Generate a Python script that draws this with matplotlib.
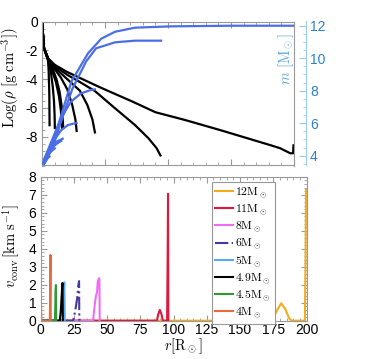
import matplotlib
matplotlib.use("Agg")
import matplotlib.pyplot as plt
from matplotlib.ticker import MultipleLocator

plt.rcParams["font.family"] = ["Liberation Sans", "DejaVu Sans"]
plt.rcParams["mathtext.fontset"] = "cm"

models = ["12", "11", "8", "6", "5", "4.9", "4.5", "4"]
colors = ["#f2ac1c", "#e0163c", "#f06cf2", "#46389e", "#5aaaec", "black", "#2f9a33", "#e8693a"]
styles = ["-", "-", "-", "-.", "-", "-", "-", "-"]

# top panel: log density vs radius (black)
rho_r = {
    "12": [0, 1.6, 4.8, 10, 19.6, 46, 72, 90, 113.5, 141, 181, 189, 197, 199.3, 199.6],
    "11": [0, 1.6, 4.8, 10, 20, 30, 42, 58, 73.8, 84.4, 91, 94],
    "8": [0, 1.6, 4.8, 10, 20, 30, 36, 40, 42],
    "6": [0, 1.6, 4.8, 10, 15, 20, 24, 26.5, 27.5],
    "5": [0, 1.6, 4.8, 8.5, 11.5, 14, 15.8, 16.6, 16.8],
    "4.9": [0, 1.6, 4.8, 8, 11, 13.5, 15, 15.7, 16.0],
    "4.5": [0, 1.6, 4.8, 7, 8.5, 9.5, 10, 10.2],
    "4": [0, 1.6, 4.8, 5.3, 5.8, 6.0],
}
rho_v = {
    "12": [0, -1.86, -2.56, -3.0, -3.49, -4.57, -5.57, -6.3, -6.84, -7.53, -8.58, -8.8, -9.15, -9.15, -8.6],
    "11": [0, -1.86, -2.56, -3.1, -3.7, -4.2, -4.83, -6.03, -7.19, -8.1, -8.8, -9.3],
    "8": [0, -1.86, -2.56, -3.2, -4.0, -4.8, -5.8, -6.8, -7.7],
    "6": [0, -1.86, -2.56, -3.3, -3.9, -4.7, -5.8, -6.8, -7.6],
    "5": [0, -1.86, -2.6, -3.3, -4.0, -4.9, -6.0, -7.0, -7.4],
    "4.9": [0, -1.86, -2.6, -3.4, -4.2, -5.2, -6.2, -7.0, -7.4],
    "4.5": [0, -1.86, -2.7, -3.5, -4.5, -5.5, -6.5, -7.4],
    "4": [0, -1.86, -2.7, -3.5, -5.0, -7.2],
}

# top panel: enclosed mass vs radius (blue)
mass_r = {
    "12": [0, 7.4, 15.3, 23.3, 36.5, 47, 58, 73.8, 101.6, 150, 200],
    "11": [0, 8, 16, 24, 35, 42.9, 58, 73.8, 94.5],
    "8": [0, 2, 7.4, 15, 23, 31, 39, 42],
    "6": [0, 3.4, 8.7, 15.3, 20.6, 25.9, 27.5],
    "5": [0, 3.4, 7.4, 11, 16.4],
    "4.9": [0, 3, 7, 11, 15.3],
    "4.5": [0, 3, 6, 10.2],
    "4": [0, 2.5, 4.5, 6],
}
mass_v = {
    "12": [3.3, 4.46, 6.5, 8.56, 10.3, 11.2, 11.63, 11.88, 11.96, 12.0, 12.0],
    "11": [3.3, 4.4, 6.3, 8.1, 9.8, 10.61, 10.98, 11.08, 11.08],
    "8": [3.3, 3.84, 4.86, 6.3, 7.33, 7.84, 8.05, 8.08],
    "6": [3.3, 4.04, 4.86, 5.58, 5.89, 5.99, 6.02],
    "5": [3.3, 3.95, 4.5, 4.85, 5.05],
    "4.9": [3.3, 3.9, 4.4, 4.7, 4.92],
    "4.5": [3.3, 3.85, 4.2, 4.45],
    "4": [3.3, 3.6, 3.85, 3.95],
}

# bottom panel: convective velocity vs radius
vconv_r = {
    "12": [0, 172, 175, 178, 181, 184, 187, 189, 198.8, 199.3, 199.6],
    "11": [0, 87.5, 88.5, 89.7, 91, 92, 95.2, 95.6, 95.9, 96.1],
    "8": [0, 39.5, 40.5, 41.5, 42.5, 43.1, 44.0, 44.3, 44.5],
    "6": [0, 24.5, 26, 27.5, 28.5, 29, 29.2],
    "5": [0, 17.2, 17.6, 17.9, 18.2],
    "4.9": [0, 14.5, 15.2, 16.0, 16.5, 16.8],
    "4.5": [0, 10.9, 11.3, 11.6, 11.8],
    "4": [0, 0.4, 0.6, 7.0, 7.3, 7.5, 7.7],
}
vconv_v = {
    "12": [0, 0, 0.15, 0.6, 0.97, 0.65, 0.12, 0, 0, 3.5, 7.26],
    "11": [0, 0, 0.35, 0.6, 0.35, 0, 0, 3.5, 7.05, 0],
    "8": [0, 0, 0.7, 1.3, 1.6, 2.2, 2.36, 2.3, 0],
    "6": [0, 0, 0.5, 1.2, 2.0, 2.2, 0],
    "5": [0, 0, 1.8, 2.13, 0],
    "4.9": [0, 0, 0.5, 1.5, 2.1, 0],
    "4.5": [0, 0, 1.6, 1.98, 0],
    "4": [0.85, 0.85, 0, 0, 2.0, 3.65, 0],
}

grey = "#999999"
blue = "#4a6ee6"
tblue = "#2a80cc"

fig = plt.figure(figsize=(3.7, 3.59), dpi=100)
ax1 = fig.add_axes([42 / 370, 1 - 165.5 / 359, 252 / 370, 144 / 359])
ax3 = fig.add_axes([40.5 / 370, 1 - 320.7 / 359, 266 / 370, 144 / 359])

for m in models:
    ax1.plot(rho_r[m], rho_v[m], color="black", lw=1.6)
ax1.set_xlim(0, 200)
ax1.set_ylim(-10, 0)
ax1.set_yticks([0, -2, -4, -6, -8])
ax1.set_yticklabels(["0", "-2", "-4", "-6", "-8"])
ax1.yaxis.set_minor_locator(MultipleLocator(0.5))
ax1.xaxis.set_major_locator(MultipleLocator(50))
ax1.xaxis.set_minor_locator(MultipleLocator(10))
ax1.tick_params(axis="x", which="both", labelbottom=False, top=True, direction="in", color=grey)
ax1.tick_params(axis="y", which="both", right=False, direction="in", color=grey, labelsize=10, pad=3)
ax1.tick_params(which="major", length=4)
ax1.tick_params(which="minor", length=2)
ax1.set_ylabel(r"$\mathrm{Log}(\rho\ [\mathrm{g\ cm^{-3}}])$", fontsize=10.5)
ax1.yaxis.set_label_coords(-0.08, 0.61)
for s in ax1.spines.values():
    s.set_color(grey)

ax2 = ax1.twinx()
for m in models:
    ax2.plot(mass_r[m], mass_v[m], color=blue, lw=1.6)
ax2.set_ylim(3.4, 12.26)
ax2.set_yticks([4, 6, 8, 10, 12])
ax2.yaxis.set_minor_locator(MultipleLocator(0.5))
ax2.spines["right"].set_position(("outward", 8.6))
ax2.spines["right"].set_color("#9ccbec")
for k in ("left", "top", "bottom"):
    ax2.spines[k].set_visible(False)
ax2.tick_params(axis="y", which="both", direction="in", color="#9ccbec", labelcolor=tblue, labelsize=10, pad=3)
ax2.tick_params(which="major", length=5)
ax2.tick_params(which="minor", length=2.5)
ax2.set_ylabel(r"$m\ [\mathrm{M_\odot}]$", color="#5ea6de", fontsize=10.5)
ax2.yaxis.set_label_coords(0.93, 0.74)

for m, c, ls in zip(models, colors, styles):
    ax3.plot(vconv_r[m], vconv_v[m], color=c, ls=ls, lw=1.5, label=r"$\mathrm{%sM_\odot}$" % m)
ax3.set_xlim(0, 200)
ax3.set_ylim(0, 8)
ax3.xaxis.set_major_locator(MultipleLocator(25))
ax3.xaxis.set_minor_locator(MultipleLocator(5))
ax3.yaxis.set_major_locator(MultipleLocator(1))
ax3.yaxis.set_minor_locator(MultipleLocator(0.2))
ax3.tick_params(which="both", direction="in", top=True, right=True, color=grey, labelsize=10)
ax3.tick_params(axis="x", pad=2)
ax3.tick_params(axis="y", pad=3)
ax3.tick_params(which="major", length=4)
ax3.tick_params(which="minor", length=2)
for s in ax3.spines.values():
    s.set_color(grey)
ax3.set_ylabel(r"$v_{\rm conv}\,[\mathrm{km\ s^{-1}}]$", fontsize=10.5)
ax3.yaxis.set_label_coords(-0.068, 0.515)
ax3.set_xlabel(r"$r[\mathrm{R_\odot}]$", fontsize=10.5)
ax3.xaxis.set_label_coords(0.536, -0.11)
ax3.xaxis.label.set_va("top")

leg = ax3.legend(loc="upper left", bbox_to_anchor=(0.644, 0.965), fontsize=8.5,
                 handlelength=1.5, handletextpad=0.2, labelspacing=0.22,
                 borderpad=0.3, borderaxespad=0, fancybox=False, framealpha=1)
leg.get_frame().set_edgecolor(grey)
leg.get_frame().set_linewidth(0.8)

fig.savefig("out.png", dpi=100)
